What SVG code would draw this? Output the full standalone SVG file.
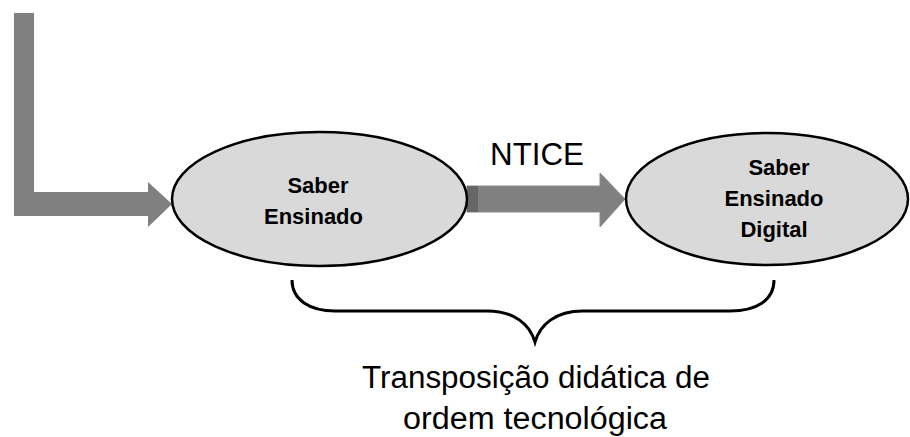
<svg xmlns="http://www.w3.org/2000/svg" width="910" height="437" viewBox="0 0 910 437">
<style>
.node ellipse{fill:#d9d9d9;stroke:#000;stroke-width:2.5}
.lbl{font-family:"Liberation Sans",Arial,sans-serif;font-weight:bold;font-size:22px;fill:#000;text-anchor:middle}
.big{font-family:"Liberation Sans",Arial,sans-serif;font-size:31px;fill:#000;text-anchor:middle}
.arrow{fill:#808080}
</style>
<rect width="910" height="437" fill="#fff"/>
<g id="connectors">
  <path class="arrow" d="M14,13 L34,13 L34,192 L148,192 L148,182 L172,204 L148,227 L148,216 L14,216 Z" fill="#878787"/>
  <path class="arrow" d="M467,186 L600,186 L600,173 L625,199 L600,227 L600,212 L467,212 Z" stroke="#8c8c8c" stroke-width="1"/>
  <rect x="467" y="186" width="11" height="26" fill="#666"/>
  <text class="big" x="537" y="165" textLength="94" lengthAdjust="spacingAndGlyphs">NTICE</text>
</g>
<g id="node-saber-ensinado" class="node">
  <ellipse cx="319.5" cy="199" rx="147.5" ry="67"/>
  <text class="lbl" x="318" y="193">Saber</text>
  <text class="lbl" x="313.5" y="224">Ensinado</text>
</g>
<g id="node-saber-ensinado-digital" class="node">
  <ellipse cx="767" cy="199" rx="141" ry="66"/>
  <text class="lbl" x="779" y="175">Saber</text>
  <text class="lbl" x="774" y="206">Ensinado</text>
  <text class="lbl" x="774" y="237">Digital</text>
</g>
<g id="brace">
  <path d="M292,280 C292,300 310,311 335,311 L487,311 C515,311 530,325 535,342 C540,325 555,311 583,311 L730,311 C757,311 774,300 774,280" fill="none" stroke="#000" stroke-width="3"/>
  <text class="big" x="536" y="388" textLength="348" lengthAdjust="spacingAndGlyphs">Transposição didática de</text>
  <text class="big" x="535" y="429" textLength="264" lengthAdjust="spacingAndGlyphs">ordem tecnológica</text>
</g>
</svg>
